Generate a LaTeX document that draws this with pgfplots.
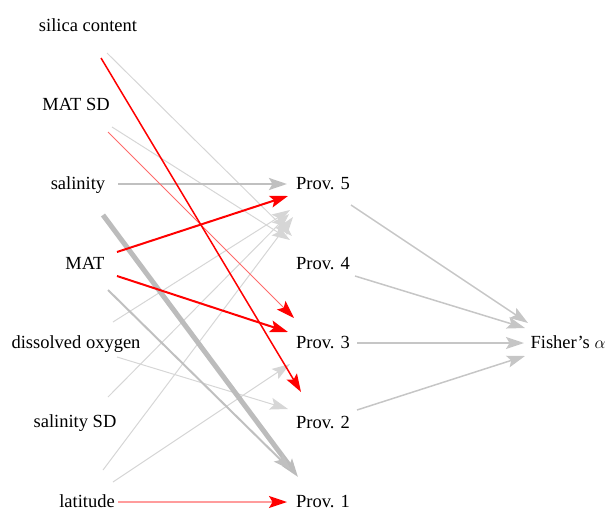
\documentclass[border=0pt]{standalone}
\usepackage{fontspec}
\setmainfont{Liberation Serif}
\usepackage{pgfplots}
\usepackage{pgfplotstable}
\pgfplotsset{compat=1.18}
\usetikzlibrary{arrows.meta}

\definecolor{faint}{HTML}{D6D6D6}
\definecolor{midgrey}{HTML}{C0C0C0}
\definecolor{outgrey}{HTML}{C6C6C6}
\definecolor{heavygrey}{HTML}{BCBCBC}
\definecolor{pinkred}{HTML}{FF6A6A}
\definecolor{palered}{HTML}{FF9C9C}

% node label positions (pixel coords, y downwards)
\pgfplotstableread[col sep=comma]{
x,y,label
88,26,silica content
76,105,MAT SD
78,184,salinity
85,264,MAT
76,343,dissolved oxygen
75,422,salinity SD
87,502,latitude
323,184,Prov. 5
323,264,Prov. 4
323,343,Prov. 3
323,423,Prov. 2
323,502,Prov. 1
568,343,Fisher’s $\alpha$
}\nodetab

\tikzset{hd/.style={-{Stealth[length=18pt,width=12pt,inset=3.5pt]}},
  hdred/.style={-{Stealth[length=18pt,width=12pt,inset=3.5pt,color=red]}}}

\begin{document}
\begin{tikzpicture}
\begin{axis}[
  width=610pt, height=511pt, scale only axis,
  xmin=0, xmax=610, ymin=0, ymax=511, y dir=reverse,
  hide axis, clip=false,
]
% faint grey edges
\addplot[faint, line width=1pt, hd] coordinates {(107,53) (292,236)};
\addplot[faint, line width=1pt, hd] coordinates {(112,127) (290,240)};
\addplot[faint, line width=1pt, hd] coordinates {(113,322) (290,210)};
\addplot[faint, line width=1pt, hd] coordinates {(108,397) (289,214)};
\addplot[faint, line width=1pt, hd] coordinates {(103,470) (293,217)};
\addplot[faint, line width=1pt, hd] coordinates {(113,482) (290,364)};
\addplot[faint, line width=1pt, hd] coordinates {(117,357) (288,409)};
% heavier grey edges
\addplot[midgrey, line width=2.5pt, hd] coordinates {(118,184) (287,184)};
\addplot[heavygrey, line width=5pt, hd] coordinates {(103,215) (298,477)};
\addplot[midgrey, line width=2pt, hd] coordinates {(108,290) (291,470)};
% provinces to Fisher's alpha
\addplot[outgrey, line width=1.5pt, hd] coordinates {(351,205) (528,323)};
\addplot[outgrey, line width=1.5pt, hd] coordinates {(355,276) (525,328)};
\addplot[outgrey, line width=1.5pt, hd] coordinates {(357,343) (524,343)};
\addplot[outgrey, line width=1.5pt, hd] coordinates {(357,410) (525,356)};
% red edges
\addplot[pinkred, line width=1pt, hdred] coordinates {(108,132) (294,318)};
\addplot[palered, line width=1.5pt, hdred] coordinates {(118,502) (287,502)};
\addplot[red, line width=1.5pt, hd] coordinates {(101,58) (301,392)};
\addplot[red, line width=2pt, hd] coordinates {(117,252) (288,196)};
\addplot[red, line width=2pt, hd] coordinates {(117,276) (288,332)};
% labels
\addplot[draw=none, mark=none, nodes near coords, point meta=explicit symbolic,
  every node near coord/.style={anchor=mid, yshift=-3pt, inner sep=0pt,
    font=\fontsize{18.5}{22}\selectfont, text=black}]
  table[x=x, y=y, meta=label] {\nodetab};
\end{axis}
\pgfresetboundingbox
\path (current axis.south west) rectangle (current axis.north east);
\end{tikzpicture}
\end{document}
